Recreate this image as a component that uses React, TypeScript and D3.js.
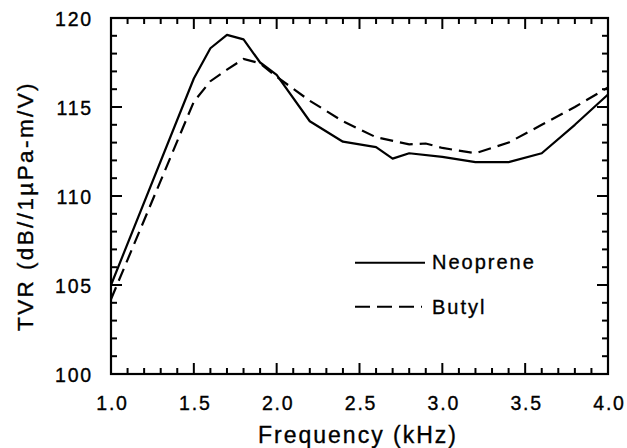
import React from "react";
import * as d3 from "d3";

const neopreneFreq = [1.0, 1.5, 1.6, 1.7, 1.8, 1.9, 2.0, 2.2, 2.4, 2.5, 2.6, 2.7, 2.8, 3.0, 3.2, 3.4, 3.6, 3.8, 4.0];
const neopreneTVR = [105.0, 116.6, 118.3, 119.05, 118.8, 117.5, 116.8, 114.2, 113.05, 112.9, 112.75, 112.1, 112.4, 112.2, 111.9, 111.9, 112.4, 114.0, 115.7];

const butylFreq = [1.0, 1.5, 1.6, 1.7, 1.8, 1.9, 2.0, 2.2, 2.4, 2.6, 2.8, 2.9, 3.0, 3.2, 3.4, 3.6, 3.8, 4.0];
const butylTVR = [104.2, 115.3, 116.45, 117.1, 117.7, 117.45, 116.7, 115.35, 114.2, 113.3, 112.9, 112.95, 112.7, 112.4, 113.0, 114.0, 115.0, 116.1];

const xTickLabels = ["1.0", "1.5", "2.0", "2.5", "3.0", "3.5", "4.0"];
const yTickLabels = ["100", "105", "110", "115", "120"];
const seriesNames = ["Neoprene", "Butyl"];
const xTitle = "Frequency (kHz)";
const yTitle = "TVR (dB//1\u00b5Pa-m/V)";

const W = 627;
const H = 448;
const left = 111;
const right = 608;
const top = 18;
const bottom = 374;
const FONT = "'Liberation Sans', Arial, Helvetica, sans-serif";

export default function App() {
  const x = d3.scaleLinear().domain([1, 4]).range([left, right]);
  const y = d3.scaleLinear().domain([100, 120]).range([bottom, top]);

  const line = d3
    .line<[number, number]>()
    .x((d) => x(d[0]))
    .y((d) => y(d[1]));

  const neo: [number, number][] = neopreneFreq.map((f, i) => [f, neopreneTVR[i]]);
  const but: [number, number][] = butylFreq.map((f, i) => [f, butylTVR[i]]);

  const xMinor = d3.range(10, 41).map((v) => v / 10);
  const yMinor = d3.range(100, 121);
  const majorLen = 11;
  const minorLen = 6;

  const ticks: JSX.Element[] = [];
  xMinor.forEach((v, i) => {
    if (v <= 1.0001 || v >= 3.9999) return;
    const isMajor = Math.round(v * 10) % 5 === 0;
    const L = isMajor ? majorLen : minorLen;
    const px = x(v);
    ticks.push(<line key={"xb" + i} x1={px} x2={px} y1={bottom} y2={bottom - L} />);
    ticks.push(<line key={"xt" + i} x1={px} x2={px} y1={top} y2={top + L} />);
  });
  yMinor.forEach((v, i) => {
    if (v === 100 || v === 120) return;
    const isMajor = v % 5 === 0;
    const L = isMajor ? majorLen : minorLen;
    const py = y(v);
    ticks.push(<line key={"yl" + i} x1={left} x2={left + L} y1={py} y2={py} />);
    ticks.push(<line key={"yr" + i} x1={right} x2={right - L} y1={py} y2={py} />);
  });

  const xTickVals = xTickLabels.map(Number);
  const yTickVals = yTickLabels.map(Number);

  const textStyle = { stroke: "#000", strokeWidth: 0.35 } as const;

  return (
    <svg
      width={W}
      height={H}
      style={{ position: "absolute", left: 0, top: 0, background: "#fff" }}
      fontFamily={FONT}
    >
      <rect x={0} y={0} width={W} height={H} fill="#fff" />
      <g stroke="#000" strokeWidth={2}>{ticks}</g>
      <rect
        x={left}
        y={top}
        width={right - left}
        height={bottom - top}
        fill="none"
        stroke="#000"
        strokeWidth={2.2}
      />
      <path d={line(neo) || ""} fill="none" stroke="#000" strokeWidth={2.2} strokeLinejoin="round" />
      <path
        d={line(but) || ""}
        fill="none"
        stroke="#000"
        strokeWidth={2.2}
        strokeDasharray="13,7"
      />

      <g fill="#000" style={textStyle}>
        {xTickVals.map((v, i) => (
          <text
            key={"xl" + i}
            x={x(v) + 1.5}
            y={410}
            textAnchor="middle"
            fontSize={19.5}
            letterSpacing={1.8}
          >
            {xTickLabels[i]}
          </text>
        ))}
        {yTickVals.map((v, i) => (
          <text
            key={"yl" + i}
            x={93}
            y={y(v) + 8}
            textAnchor="end"
            fontSize={19.5}
            letterSpacing={1.8}
          >
            {yTickLabels[i]}
          </text>
        ))}

        <text x={358} y={443} textAnchor="middle" fontSize={23} letterSpacing={2}>
          {xTitle}
        </text>
        <text
          transform={`translate(33, 206) rotate(-90)`}
          textAnchor="middle"
          fontSize={22.5}
          letterSpacing={2.4}
        >
          {yTitle}
        </text>

        <text x={432} y={268.5} fontSize={20} letterSpacing={2}>
          {seriesNames[0]}
        </text>
        <text x={432} y={313.5} fontSize={20} letterSpacing={2}>
          {seriesNames[1]}
        </text>
      </g>

      <line x1={355} x2={425} y1={262.7} y2={262.7} stroke="#000" strokeWidth={2} />
      <line
        x1={355}
        x2={422}
        y1={306.7}
        y2={306.7}
        stroke="#000"
        strokeWidth={2}
        strokeDasharray="15,7"
      />
    </svg>
  );
}
